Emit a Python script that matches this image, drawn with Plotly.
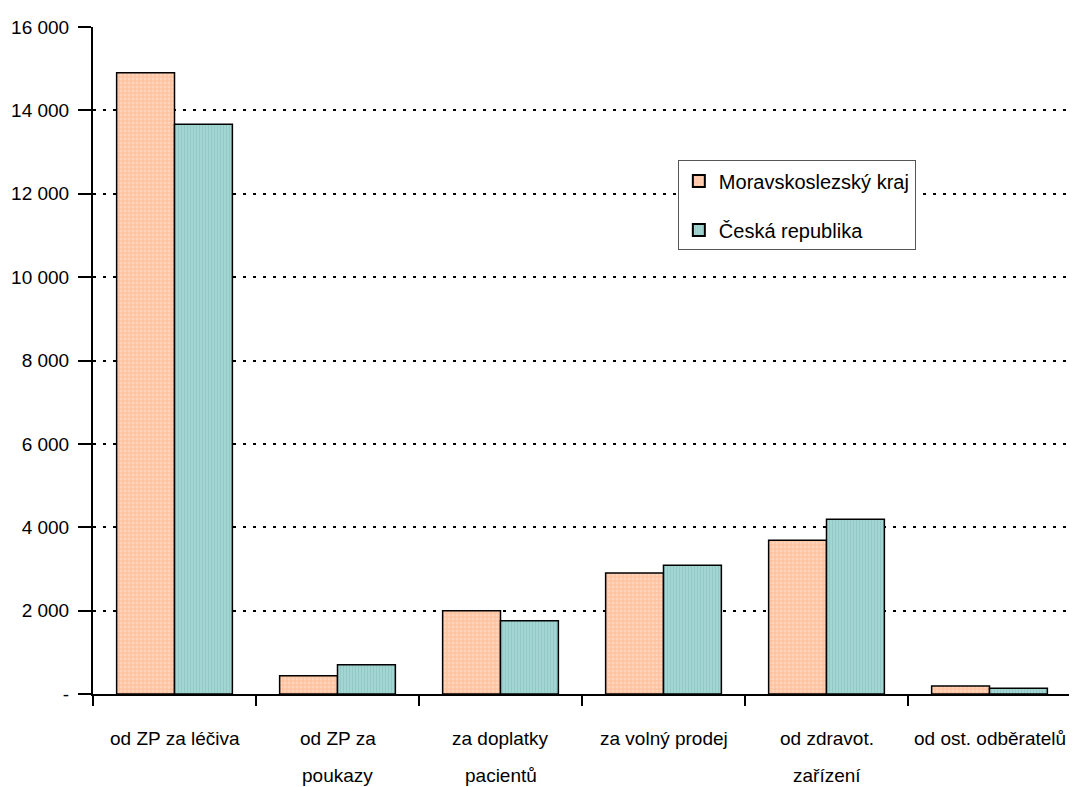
import plotly.graph_objects as go

categories = ["od ZP za léčiva", "od ZP za\npoukazy", "za doplatky\npacientů",
              "za volný prodej", "od zdravot.\nzařízení", "od ost. odběratelů"]
msk_values = [14900, 440, 2000, 2900, 3690, 190]
cr_values = [13670, 700, 1760, 3090, 4190, 140]
series_names = ["Moravskoslezský kraj", "Česká republika"]
y_tick_values = [0, 2000, 4000, 6000, 8000, 10000, 12000, 14000, 16000]
y_tick_labels = ["-", "2 000", "4 000", "6 000", "8 000", "10 000", "12 000", "14 000", "16 000"]

FONT = "Liberation Sans, Arial, sans-serif"

fig = go.Figure()
fig.add_trace(go.Bar(
    x=categories, y=msk_values, name=series_names[0], legendgroup="a",
    marker=dict(color="#FCC19C", line=dict(color="black", width=1.5),
                pattern=dict(shape="+", fgcolor="#FFA876", bgcolor="#FFD4BA", size=4, solidity=0.45)),
))
fig.add_trace(go.Bar(
    x=categories, y=cr_values, name=series_names[1], legendgroup="b",
    marker=dict(color="#8FC9C6", line=dict(color="black", width=1.5),
                pattern=dict(shape="|", fgcolor="#7DBDBA", bgcolor="#A6D7D4", size=3, solidity=0.45)),
))

# category labels drawn as annotations (two-line labels with wide line spacing)
for cat in categories:
    lines = cat.split("\n")
    for i, line in enumerate(lines):
        fig.add_annotation(x=cat, xref="x", yref="paper", y=-0.066 - 0.0555 * i,
                           yanchor="middle", xanchor="center", text=line, showarrow=False,
                           font=dict(family=FONT, size=19, color="black"))

fig.update_layout(
    width=1077, height=787,
    margin=dict(l=85, r=14, t=19, b=101, pad=0),
    paper_bgcolor="white", plot_bgcolor="white",
    barmode="group", bargap=0.29, bargroupgap=0,
    font=dict(family=FONT, size=20, color="black"),
    showlegend=True,
    legend=dict(x=0.598, y=0.80, xanchor="left", yanchor="top",
                bgcolor="white", bordercolor="#555555", borderwidth=1,
                font=dict(family=FONT, size=20), itemsizing="constant",
                tracegroupgap=20, traceorder="grouped"),
    xaxis=dict(showline=True, linecolor="black", linewidth=2,
               ticks="outside", tickson="boundaries", ticklen=10, tickwidth=2, tickcolor="black",
               showgrid=False, showticklabels=False, automargin=False),
    yaxis=dict(range=[0, 16000], tickvals=y_tick_values, ticktext=y_tick_labels,
               showline=True, linecolor="black", linewidth=2, mirror=True,
               ticks="outside", ticklen=13, tickwidth=2, tickcolor="black",
               showgrid=True, gridcolor="black", gridwidth=2, griddash="3px,7px",
               zeroline=False, tickfont=dict(family=FONT, size=19), automargin=False,
               ticklabelstandoff=5),
)

fig.write_html("out.html")
